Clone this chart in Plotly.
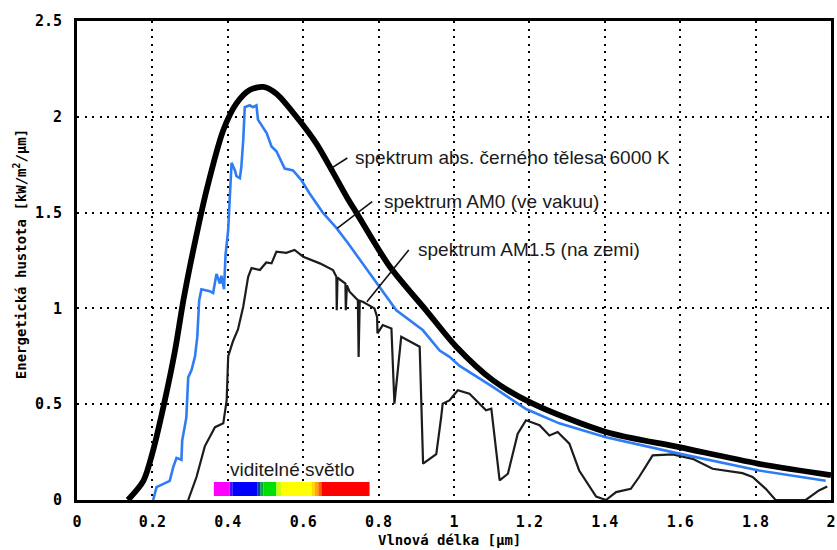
import plotly.graph_objects as go

# ---- data ----
bb_x = [0.135, 0.176, 0.202, 0.233, 0.260, 0.282, 0.308, 0.344, 0.388, 0.423, 0.458, 0.494,
        0.529, 0.582, 0.635, 0.679, 0.719, 0.741, 0.829, 0.926, 1.006, 1.103, 1.209, 1.403,
        1.597, 1.809, 2.0]
bb_y = [0.0, 0.10, 0.26, 0.52, 0.78, 1.04, 1.30, 1.62, 1.93, 2.07, 2.14, 2.156,
        2.12, 2.00, 1.86, 1.71, 1.57, 1.50, 1.22, 0.99, 0.80, 0.625, 0.503, 0.355,
        0.276, 0.189, 0.13]

am0_x = [0.202, 0.211, 0.246, 0.255, 0.264, 0.277, 0.279, 0.290, 0.295, 0.304, 0.313, 0.319,
         0.324, 0.330, 0.352, 0.361, 0.370, 0.379, 0.383, 0.390, 0.394, 0.401, 0.410, 0.419,
         0.423, 0.432, 0.436, 0.441, 0.445, 0.458, 0.467, 0.476, 0.480, 0.503, 0.516, 0.529,
         0.551, 0.573, 0.595, 0.617, 0.652, 0.688, 0.719, 0.758, 0.803, 0.847, 0.917, 0.962,
         0.988, 1.015, 1.103, 1.191, 1.279, 1.403, 1.597, 1.809, 1.986]
am0_y = [0.0, 0.067, 0.10, 0.17, 0.22, 0.21, 0.31, 0.43, 0.64, 0.68, 0.75, 0.85,
         1.04, 1.10, 1.09, 1.08, 1.18, 1.13, 1.17, 1.10, 1.28, 1.41, 1.76, 1.72,
         1.69, 1.68, 1.74, 1.88, 2.05, 2.06, 2.05, 2.06, 1.985, 1.915, 1.845, 1.82,
         1.73, 1.72, 1.67, 1.60, 1.50, 1.42, 1.34, 1.23, 1.11, 0.99, 0.887, 0.78,
         0.747, 0.70, 0.59, 0.475, 0.40, 0.328, 0.242, 0.154, 0.10]

am15_x = [0.295, 0.317, 0.339, 0.366, 0.388, 0.397, 0.401, 0.414, 0.427, 0.441, 0.454, 0.463,
          0.485, 0.502, 0.516, 0.529, 0.555, 0.577, 0.600, 0.644, 0.679, 0.688, 0.689, 0.691,
          0.712, 0.713, 0.716, 0.723, 0.745, 0.747, 0.750, 0.758, 0.789, 0.796, 0.797, 0.811,
          0.834, 0.842, 0.860, 0.909, 0.918, 0.953, 0.966, 0.970, 0.988, 1.010, 1.041, 1.085,
          1.099, 1.121, 1.143, 1.169, 1.191, 1.227, 1.253, 1.275, 1.306, 1.332, 1.377, 1.403,
          1.430, 1.469, 1.491, 1.527, 1.580, 1.633, 1.686, 1.765, 1.792, 1.827, 1.853, 1.933,
          1.968, 1.990]
am15_y = [0.0, 0.12, 0.28, 0.38, 0.40, 0.52, 0.75, 0.83, 0.89, 1.01, 1.165, 1.21,
          1.20, 1.24, 1.235, 1.296, 1.29, 1.305, 1.27, 1.235, 1.20, 1.165, 0.99, 1.16,
          1.13, 0.99, 1.12, 1.087, 1.043, 0.747, 1.04, 1.035, 1.00, 0.956, 0.87, 0.913,
          0.895, 0.503, 0.852, 0.80, 0.19, 0.24, 0.433, 0.503, 0.52, 0.573, 0.555, 0.468,
          0.477, 0.102, 0.137, 0.346, 0.416, 0.39, 0.337, 0.355, 0.294, 0.154, 0.018, 0.0,
          0.041, 0.058, 0.12, 0.233, 0.238, 0.215, 0.163, 0.14, 0.12, 0.058, 0.0, 0.0,
          0.05, 0.07]

# visible light band (wavelength edges, µm) and colours
vis_edges = [0.363, 0.405, 0.412, 0.478, 0.487, 0.494, 0.529, 0.541, 0.622, 0.631, 0.640, 0.648, 0.776]
vis_colors = ["#ff00ff", "#5a00ff", "#0000ff", "#004a90", "#00b030", "#00e000", "#c8ff00",
              "#ffff00", "#ffd800", "#ffa800", "#ff6000", "#ff0000"]

x_ticks = [0, 0.2, 0.4, 0.6, 0.8, 1, 1.2, 1.4, 1.6, 1.8, 2]
x_ticktext = ["0", "0.2", "0.4", "0.6", "0.8", "1", "1.2", "1.4", "1.6", "1.8", "2"]
y_ticks = [0, 0.5, 1, 1.5, 2, 2.5]
y_ticktext = ["0", "0.5", "1", "1.5", "2", "2.5"]

labels = ["spektrum abs. černého tělesa 6000 K", "spektrum AM0 (ve vakuu)", "spektrum AM1.5 (na zemi)"]

# ---- figure ----
fig = go.Figure()
fig.add_trace(go.Scatter(x=am15_x, y=am15_y, mode="lines",
                         line=dict(color="#1c1c1c", width=2.2), showlegend=False, hoverinfo="skip"))
fig.add_trace(go.Scatter(x=am0_x, y=am0_y, mode="lines",
                         line=dict(color="#2f7df5", width=2.6), showlegend=False, hoverinfo="skip"))
fig.add_trace(go.Scatter(x=bb_x, y=bb_y, mode="lines",
                         line=dict(color="#000000", width=5.8, shape="spline", smoothing=0.8),
                         showlegend=False, hoverinfo="skip"))

shapes = []
for i, c in enumerate(vis_colors):
    shapes.append(dict(type="rect", xref="x", yref="y", x0=vis_edges[i], x1=vis_edges[i + 1],
                       y0=0.021, y1=0.094, fillcolor=c, line=dict(width=0), layer="above"))

# pointer lines for the labels
pointers = [((0.672, 1.728), (0.717, 1.785)),
            ((0.690, 1.418), (0.783, 1.557)),
            ((0.769, 1.035), (0.880, 1.305))]
for (p0, p1) in pointers:
    shapes.append(dict(type="line", xref="x", yref="y", x0=p0[0], y0=p0[1], x1=p1[0], y1=p1[1],
                       line=dict(color="#111111", width=1.6)))

ann_font = dict(family="Liberation Sans, Arial, sans-serif", size=19, color="#1a1a1a")
label_pos = [(0.733, 1.790), (0.809, 1.560), (0.898, 1.310)]
annotations = []
for txt, (ax_, ay_) in zip(labels, label_pos):
    annotations.append(dict(x=ax_, y=ay_, xref="x", yref="y", text=txt, showarrow=False,
                            xanchor="left", yanchor="middle", font=ann_font))
annotations.append(dict(x=0.571, y=0.157, xref="x", yref="y", text="viditelné světlo", showarrow=False,
                        xanchor="center", yanchor="middle", font=ann_font))

mono = dict(family="DejaVu Sans Mono, monospace", size=15, color="#000000", weight="bold")
title_font = dict(family="DejaVu Sans Mono, monospace", size=14, color="#000000", weight="bold")
annotations.append(dict(x=0.494, y=-0.0835, xref="paper", yref="paper", text="Vlnová délka [μm]",
                        showarrow=False, xanchor="center", yanchor="middle", font=title_font))
annotations.append(dict(x=-0.0757, y=0.513, xref="paper", yref="paper",
                        text="Energetická hustota [kW/m<sup>2</sup>/μm]", textangle=-90,
                        showarrow=False, xanchor="center", yanchor="middle", font=title_font))

grid_dash = "2px,5.5px"
fig.update_layout(
    width=837, height=550,
    margin=dict(l=77, r=6, t=21, b=50, autoexpand=False),
    paper_bgcolor="white", plot_bgcolor="white",
    shapes=shapes, annotations=annotations,
    xaxis=dict(range=[0, 2], tickvals=x_ticks, ticktext=x_ticktext, showline=True, linewidth=3,
               linecolor="black", mirror=True, showgrid=True, gridcolor="black", gridwidth=2,
               griddash=grid_dash, zeroline=False, ticks="", tickfont=mono, ticklabelstandoff=6,
               automargin=False),
    yaxis=dict(range=[0, 2.5], tickvals=y_ticks, ticktext=y_ticktext, showline=True, linewidth=3,
               linecolor="black", mirror=True, showgrid=True, gridcolor="black", gridwidth=2,
               griddash=grid_dash, zeroline=False, ticks="", tickfont=mono, ticklabelstandoff=9,
               automargin=False),
)

fig.write_html("out.html", config={"displayModeBar": False},
               post_script="document.body.style.margin='0';document.body.style.padding='0';"
                           "document.body.style.overflow='hidden';")
